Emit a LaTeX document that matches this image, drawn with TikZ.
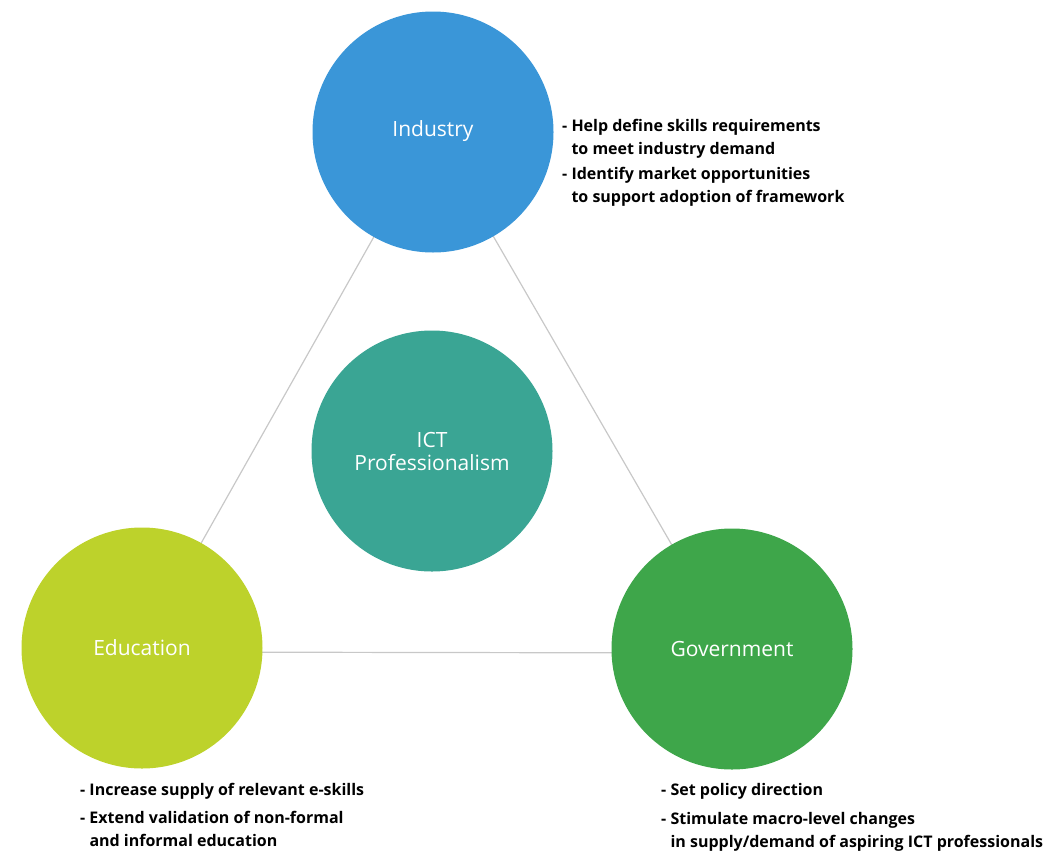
\documentclass[tikz,border=0pt]{standalone}
\usepackage{fontspec}
\usepackage{xcolor}
\usepackage{tikz}
\usetikzlibrary{backgrounds}
\setmainfont{Open Sans}
\newfontfamily\notefont{Open Sans}
\definecolor{industryblue}{HTML}{3A96D8}
\definecolor{educationlime}{HTML}{BDD22B}
\definecolor{governmentgreen}{HTML}{3EA64A}
\definecolor{ictteal}{HTML}{3AA594}
\definecolor{linkgray}{HTML}{C8C8C8}
\newcommand{\gap}{\phantom{-\ }}

\begin{document}
\begin{tikzpicture}[x=1pt,y=-1pt,
    hub/.style={circle,minimum size=241pt,inner sep=0pt,text=white,
                align=center,font=\fontsize{21}{23}\selectfont},
    link/.style={color=linkgray,line width=1.2pt},
    notes/.style={anchor=north west,inner sep=0pt,align=left,
                  font=\notefont\bfseries\fontsize{16}{23}\selectfont}]
      \useasboundingbox (0,0) rectangle (1055,852);
      % circles
      \node[hub,fill=industryblue]    (industry)   at (433,132) {\raisebox{7pt}{Industry}};
      \node[hub,fill=ictteal]         (ict)        at (432,451) {\raisebox{-4pt}{ICT}\\\raisebox{-4pt}{Professionalism}};
      \node[hub,fill=educationlime]   (education)  at (142,648) {Education};
      \node[hub,fill=governmentgreen] (government) at (732,649) {Government};
      % links
      \begin{scope}[on background layer]
        \draw[link] (industry.center) -- (education.center);
        \draw[link] (industry.center) -- (government.center);
        \draw[link] ([yshift=-4pt]education.center) -- ([yshift=-4pt]government.center);
      \end{scope}
      % roles
      \node[notes] (industrynotes) at (562,119)
        {- Help define skills requirements\\
         \gap to meet industry demand\\[2pt]
         - Identify market opportunities\\
         \gap to support adoption of framework};
      \node[notes] (educationnotes) at (80,783)
        {- Increase supply of relevant e-skills\\[5pt]
         - Extend validation of non-formal\\
         \gap and informal education};
      \node[notes] (governmentnotes) at (661,783)
        {- Set policy direction\\[6pt]
         - Stimulate macro-level changes\\
         \gap in supply/demand of aspiring ICT professionals};
    \end{tikzpicture}
\end{document}
